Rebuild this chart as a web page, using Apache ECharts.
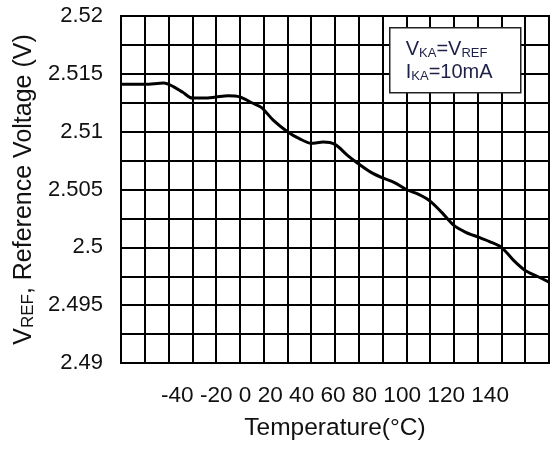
<!DOCTYPE html>
<html>
<head>
<meta charset="utf-8">
<script src="https://cdn.jsdelivr.net/npm/echarts@6/dist/echarts.min.js"></script>
<style>
  html, body { margin: 0; padding: 0; background: #fff; }
  #chart { width: 553px; height: 452px; }
</style>
</head>
<body>
<div id="chart"></div>
<script>
// curve: temperature (°C) / reference voltage (V)
var temps = [-40, -30, -22, -18, -14, -10, -5, 0, 5, 10, 15, 19, 24, 30, 35, 40, 45, 50, 55, 60,
             65, 70, 75, 80, 85, 90, 95, 100, 105, 110, 115, 120, 125, 130, 135, 140];
var volts = [2.5141, 2.5141, 2.5142, 2.5139, 2.5134, 2.5129, 2.5129, 2.5130, 2.5131, 2.5130,
             2.5125, 2.5121, 2.5110, 2.5100, 2.5094, 2.5090, 2.5091, 2.5089, 2.5080, 2.5072,
             2.5065, 2.5060, 2.5056, 2.5050, 2.5046, 2.5040, 2.5030, 2.5019, 2.5013, 2.5009,
             2.5005, 2.5000, 2.4989, 2.4980, 2.4975, 2.4970];

var xTickLabels = ['-40', '-20', '0', '20', '40', '60', '80', '100', '120', '140'];
var yTickValues = [2.49, 2.495, 2.5, 2.505, 2.51, 2.515, 2.52];
var yTickLabels = ['2.49', '2.495', '2.5', '2.505', '2.51', '2.515', '2.52'];

var FONT = '"Liberation Sans", Arial, sans-serif';
var INK = '#111';
var NOTE_INK = '#1f2048';

var chart = echarts.init(document.getElementById('chart'));

var points = [];
for (var i = 0; i < temps.length; i++) {
    points.push([temps[i], volts[i]]);
}

var option = {
    backgroundColor: '#fff',
    animation: false,
    grid: {
        left: 121, top: 16, width: 428, height: 347,
        show: true, borderColor: '#000', borderWidth: 2
    },
    xAxis: {
        type: 'value',
        min: -40, max: 140, interval: 10,
        axisLine: { show: true, lineStyle: { color: '#000', width: 2 } },
        axisTick: { show: false },
        axisLabel: { show: false },
        splitLine: { show: true, lineStyle: { color: '#000', width: 2 } },
        // the tick numbers sit as one centred row under the plot, then the title
        name: '{t|' + xTickLabels.join(' ') + '}\n{n|Temperature(°C)}',
        nameLocation: 'middle',
        nameGap: 17,
        nameTextStyle: {
            fontFamily: FONT, color: INK,
            rich: {
                t: { fontSize: 22.6, lineHeight: 32, fontFamily: FONT, color: INK },
                n: { fontSize: 24.5, lineHeight: 32, fontFamily: FONT, color: INK }
            }
        }
    },
    yAxis: {
        type: 'value',
        min: 2.49, max: 2.52, interval: 0.0025,
        axisLine: { show: true, lineStyle: { color: '#000', width: 2 } },
        axisTick: { show: false },
        axisLabel: {
            margin: 18,
            fontSize: 22, fontFamily: FONT, color: INK,
            formatter: function (v) {
                for (var k = 0; k < yTickValues.length; k++) {
                    if (Math.abs(v - yTickValues[k]) < 1e-6) return yTickLabels[k];
                }
                return '';
            }
        },
        splitLine: { show: true, lineStyle: { color: '#000', width: 2 } },
        name: 'V{sub|REF}, Reference Voltage (V)',
        nameLocation: 'middle',
        nameGap: 82,
        nameTextStyle: {
            fontSize: 25, fontFamily: FONT, color: INK,
            rich: {
                sub: { fontSize: 17, fontFamily: FONT, color: INK, verticalAlign: 'bottom' }
            }
        }
    },
    graphic: [{
        type: 'group',
        left: 389, top: 27,
        z: 100,
        children: [{
            type: 'rect',
            z: 100,
            shape: { x: 0, y: 0, width: 131, height: 65 },
            style: { fill: '#fff', stroke: '#222', lineWidth: 1.5 }
        }, {
            type: 'text',
            z: 101,
            x: 16, y: 9,
            style: {
                text: '{m|V}{s|KA}{m|=V}{s|REF}\n{m|I}{s|KA}{m|=10mA}',
                fontFamily: FONT,
                rich: {
                    m: { fontSize: 20, lineHeight: 23, fontFamily: FONT, fill: NOTE_INK, verticalAlign: 'bottom' },
                    s: { fontSize: 13, lineHeight: 23, fontFamily: FONT, fill: NOTE_INK, verticalAlign: 'bottom' }
                }
            }
        }]
    }],
    series: [{
        type: 'line',
        data: points,
        smooth: 0.3,
        symbol: 'none',
        lineStyle: { color: '#000', width: 3 },
        z: 5
    }]
};

chart.setOption(option);
</script>
</body>
</html>
